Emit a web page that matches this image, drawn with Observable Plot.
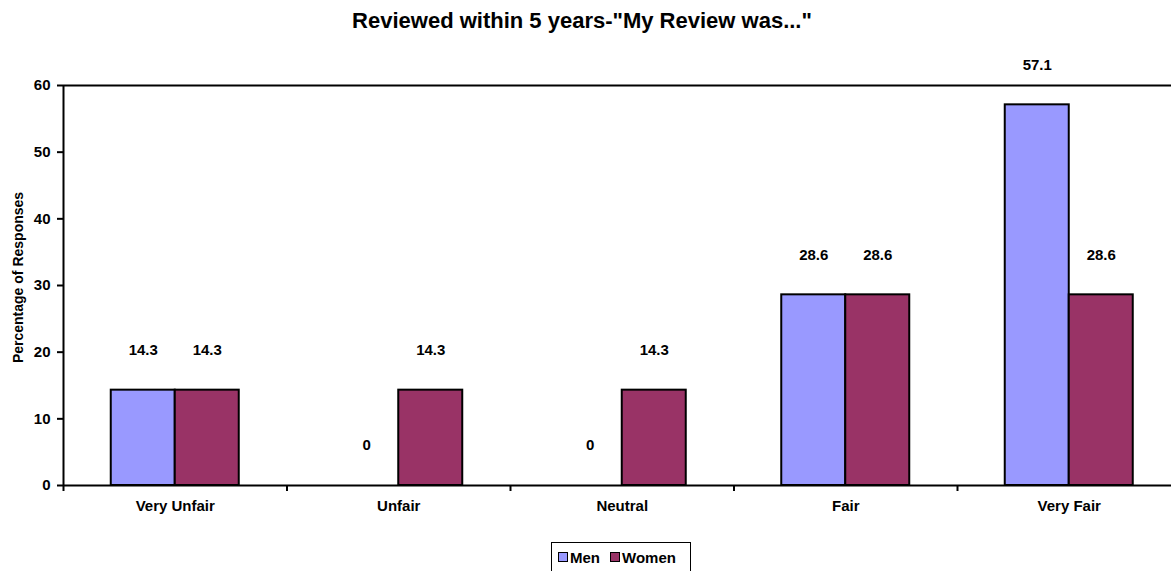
<!DOCTYPE html>
<html>
<head>
<meta charset="utf-8">
<script src="https://cdn.jsdelivr.net/npm/d3@7"></script>
<script src="https://cdn.jsdelivr.net/npm/@observablehq/plot@0.6"></script>
<style>
  html, body { margin: 0; padding: 0; background: #fff; overflow: hidden; }
  #wrap { position: relative; width: 1171px; height: 571px; overflow: hidden; font-family: "Liberation Sans", Arial, sans-serif; }
  #title { position: absolute; left: 0; top: 8px; width: 1164px; text-align: center; font-weight: bold; font-size: 22px; color: #000; }
  #legend { position: absolute; left: 551px; top: 542px; width: 140px; height: 40px; border: 1.5px solid #000; box-sizing: border-box; font-weight: bold; font-size: 15px; padding: 5px 0 0 6px; white-space: nowrap; }
  .item { display: inline-flex; align-items: center; margin-right: 10px; }
  .sw { display: inline-block; width: 8px; height: 8px; border: 1.5px solid #000; margin-right: 2px; }
  #chart { position: absolute; left: 0; top: 0; }
  #chart svg { max-width: none !important; }
</style>
</head>
<body>
<div id="wrap">
  <div id="chart"></div>
  <div id="title"></div>
  <div id="legend"></div>
</div>
<script>
const title = "Reviewed within 5 years-\"My Review was...\"";
const yLabel = "Percentage of Responses";
const categories = ["Very Unfair", "Unfair", "Neutral", "Fair", "Very Fair"];
const series = ["Men", "Women"];
const colors = ["#9999FF", "#993366"];
const men = [14.3, 0, 0, 28.6, 57.1];
const women = [14.3, 14.3, 14.3, 28.6, 28.6];
const yTicks = [0, 10, 20, 30, 40, 50, 60];

const values = [men, women];
const rows = [];
series.forEach((s, si) => {
  categories.forEach((c, i) => rows.push({category: c, i, series: s, si, value: values[si][i]}));
});

const barW = 64 / 223.5; // bar width as fraction of category band
const x1 = d => d.i + 0.5 - (d.si === 0 ? barW : 0);
const x2 = d => d.i + 0.5 + (d.si === 0 ? 0 : barW);
const xc = d => (x1(d) + x2(d)) / 2;

const font = "Liberation Sans, Arial, sans-serif";

const chart = Plot.plot({
  width: 1181,
  height: 571,
  marginLeft: 63,
  marginRight: 0.5,
  marginTop: 85,
  marginBottom: 86,
  style: {fontFamily: font, fontWeight: "bold", fontSize: "15px", color: "#000", background: "transparent", overflow: "visible", maxWidth: "none"},
  x: {type: "linear", domain: [0, categories.length]},
  y: {domain: [0, 60]},
  color: {domain: series, range: colors},
  marks: [
    Plot.ruleY([60], {stroke: "#000", strokeWidth: 2}),
    Plot.rectY(rows, {x1, x2, y1: 0, y2: "value", fill: "series", stroke: "#000", strokeWidth: 2}),
    Plot.text(rows, {x: xc, y: "value", text: d => String(d.value), dy: -40, fontSize: 15, fontWeight: "bold", fill: "#000"}),
    Plot.ruleX([0], {stroke: "#000", strokeWidth: 2}),
    Plot.ruleY([0], {stroke: "#000", strokeWidth: 2}),
    Plot.axisY({ticks: yTicks, tickSize: 6, tickPadding: 7, label: null, stroke: "#000", strokeWidth: 2, fontSize: 15, fontWeight: "bold"}),
    Plot.axisX({ticks: d3.range(categories.length + 1), tickSize: 6, tickFormat: () => "", label: null, stroke: "#000", strokeWidth: 2}),
    Plot.axisX({ticks: categories.map((c, i) => i + 0.5), tickSize: 0, tickPadding: 15, tickFormat: v => categories[Math.floor(v)], label: null, fontSize: 15, fontWeight: "bold"}),
    Plot.text([yLabel], {text: d => d, frameAnchor: "left", textAnchor: "middle", rotate: -90, dx: -45, dy: -8, fontSize: 14, fontWeight: "bold", fill: "#000"})
  ]
});
document.getElementById("chart").appendChild(chart);
document.getElementById("title").textContent = title;

const legend = document.getElementById("legend");
series.forEach((s, i) => {
  const item = document.createElement("span");
  item.className = "item";
  const sw = document.createElement("span");
  sw.className = "sw";
  sw.style.background = colors[i];
  item.appendChild(sw);
  item.appendChild(document.createTextNode(s));
  legend.appendChild(item);
});
</script>
</body>
</html>
